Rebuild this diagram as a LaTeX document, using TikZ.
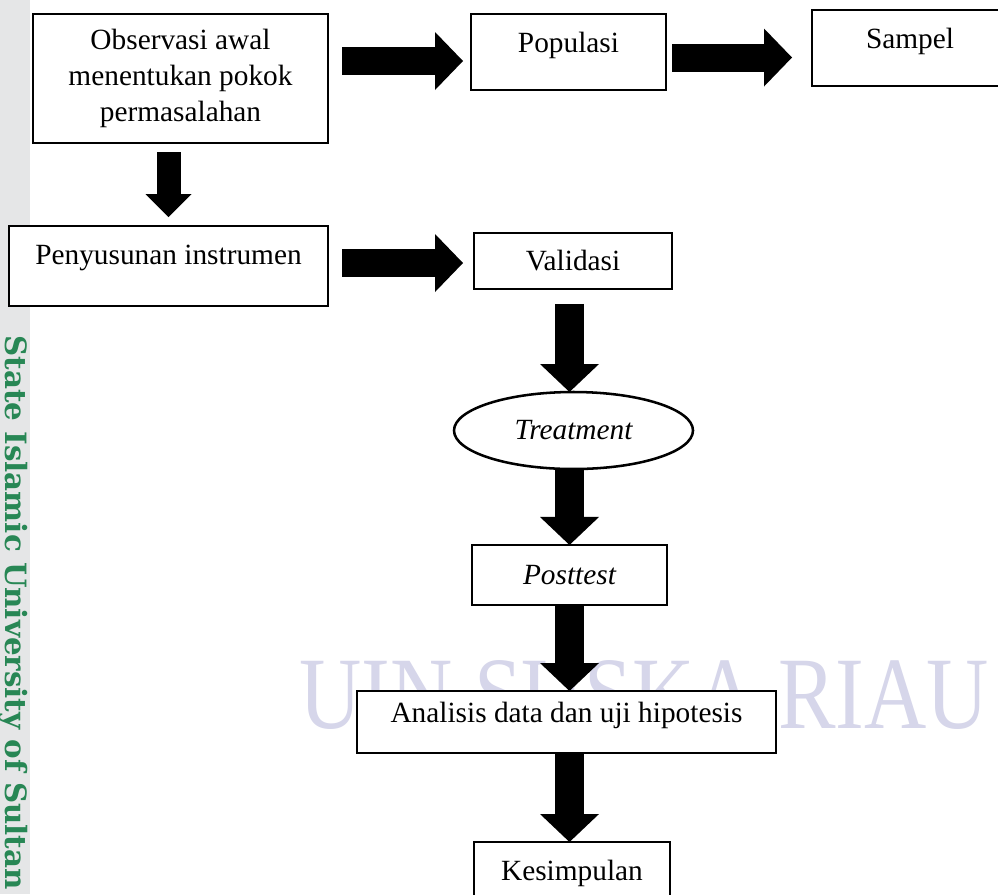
\documentclass[tikz,border=0pt]{standalone}
\usepackage{fontspec}
\setmainfont{Liberation Serif}
\newfontfamily\wmfont{DejaVu Serif}
\usetikzlibrary{arrows.meta,shapes.geometric}
\definecolor{wmgray}{RGB}{229,230,231}
\definecolor{wmgreen}{RGB}{40,135,85}
\definecolor{wmlav}{RGB}{214,214,234}
\begin{document}
\begin{tikzpicture}[x=0.75pt,y=-0.75pt,
  box/.style={draw=black,line width=1.9pt,fill=white,inner sep=0pt,outer sep=0pt,
    font=\fontsize{22}{27}\selectfont,anchor=base},
  harrow/.style={line width=21pt,-{Triangle[length=21pt,width=43.5pt,line width=0pt]}},
  varrow/.style={line width=21.75pt,-{Triangle[length=21pt,width=44.25pt,line width=0pt]}},
  sarrow/.style={line width=18pt,-{Triangle[length=17.25pt,width=34.5pt,line width=0pt]}}
]
\useasboundingbox (0,0) rectangle (998,894);
\clip (0,0) rectangle (998,894);
\fill[white] (0,0) rectangle (998,894);
% watermark
\fill[wmgray] (0,0) rectangle (30,894);
\node[rotate=-90,anchor=west,inner sep=0pt,text=wmgreen,
  font=\wmfont\bfseries\fontsize{22}{22}\selectfont] (wmside) at (13,335) {State Islamic University of Sultan};
\node[anchor=base west,inner sep=0pt,text=wmlav,xscale=0.84,
  font=\fontsize{77}{77}\selectfont] (wmname) at (299,728) {UIN SUSKA RIAU};
% boxes
\node[box,anchor=center,align=center,minimum width=221.25pt,minimum height=96.75pt]
  (obs) at (180.5,78.5) {Observasi awal\\menentukan pokok\\permasalahan};
\node[box,minimum width=146.25pt,text height=29pt,text depth=28pt] (pop) at (568.5,52.7) {Populasi};
\node[box,minimum width=147pt,text height=28.5pt,text depth=28.5pt] (smp) at (910,48) {Sampel};
\node[box,minimum width=239.25pt,text height=29pt,text depth=31pt] (pen) at (168.5,264.7) {Penyusunan instrumen};
\node[box,minimum width=148.5pt,text height=28.3pt,text depth=13.7pt] (val) at (573,270.7) {Validasi};
\node[draw=black,line width=1.9pt,fill=white,ellipse,inner sep=0pt,outer sep=0pt,
  minimum width=179.25pt,minimum height=57.75pt,font=\fontsize{22}{27}\selectfont\itshape]
  (trt) at (573.5,430.5) {Treatment};
\node[box,minimum width=146.25pt,text height=29.8pt,text depth=15.2pt,font=\fontsize{22}{27}\selectfont\itshape]
  (post) at (569.5,584.7) {Posttest};
\node[box,minimum width=314.25pt,text height=23.25pt,text depth=23.25pt] (ana) at (566.5,722) {Analisis data dan uji hipotesis};
\node[box,minimum width=147pt,text height=28.5pt,text depth=22.5pt] (kes) at (572,880) {Kesimpulan};
% arrows
\draw[harrow,shorten <=10.5pt,shorten >=6pt] (obs.east |- 0,61) -- (pop.west |- 0,61);
\draw[harrow,shorten <=4.5pt,shorten >=15pt] (pop.east |- 0,57.5) -- (smp.west |- 0,57.5);
\draw[harrow,shorten <=10.5pt,shorten >=8.25pt] (pen.east |- 0,263) -- (val.west |- 0,263);
\draw[sarrow,shorten <=6.75pt,shorten >=6.75pt] (pen.north |- obs.south) -- (pen.north);
\draw[varrow,shorten <=11.25pt] (569.5,0 |- val.south) -- (569.5,0 |- trt.north);
\draw[varrow] (569.5,0 |- trt.south) -- (569.5,0 |- post.north);
\draw[varrow] (569.5,0 |- post.south) -- (569.5,0 |- ana.north);
\draw[varrow] (569.5,0 |- ana.south) -- (569.5,0 |- kes.north);
\end{tikzpicture}
\end{document}
